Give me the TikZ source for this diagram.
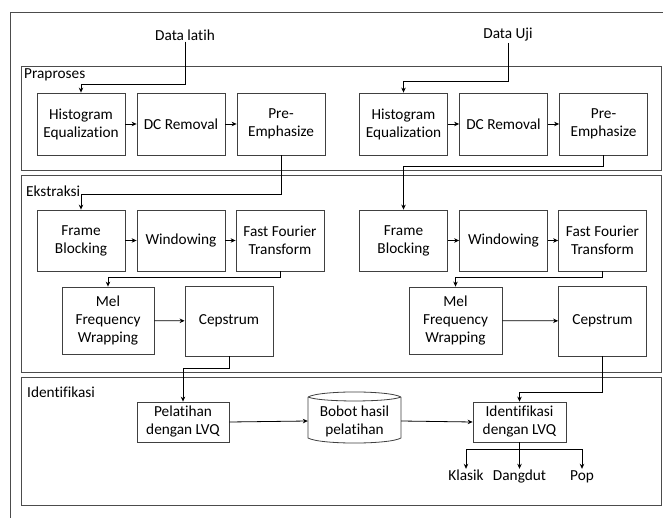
\documentclass[tikz,border=0pt]{standalone}
\usepackage{fontspec}
\setmainfont{Carlito}[Ligatures={NoCommon,NoContextual}]
\usetikzlibrary{arrows.meta,calc}
\begin{document}
\begin{tikzpicture}[x=1pt,y=-1pt,
  every node/.style={font=\fontsize{15.3}{18}\selectfont},
  blk/.style={draw=black!75,line width=0.8pt,align=center,inner sep=1pt},
  sect/.style={draw=black!70,line width=0.9pt},
  lbl/.style={anchor=west,inner sep=1pt},
  outl/.style={inner sep=1pt,text height=10.5pt,text depth=3.5pt},
  arr/.style={draw=black,line width=0.8pt,-{Stealth[length=5pt,width=4.5pt]}},
  ln/.style={draw=black,line width=0.8pt}]
\useasboundingbox (0,0) rectangle (663,518);
\fill[white] (0,0) rectangle (663,518);
% outer frame
\draw[sect] (10,518) -- (10,12) -- (663,12);
% sections
\draw[sect] (21,66) rectangle (661,170);
\draw[sect] (21,175) rectangle (661,372);
\draw[sect] (21,377) rectangle (661,505);
\node[lbl] (tpra) at (23,75) {Praproses};
\node[lbl] (teks) at (25,191) {Ekstraksi};
\node[lbl] (tidn) at (26,392) {Identifikasi};
% inputs
\node[inner sep=1pt] (dl) at (185,35) {Data latih};
\node[inner sep=1pt] (du) at (508,35) {Data Uji};
% praproses and ekstraksi rows
\foreach \n/\x in {1/0,2/322.5}{
  \node[blk,minimum width=88,minimum height=62] (h\n) at (81+\x,124) {Histogram\\Equalization};
  \node[blk,minimum width=88,minimum height=62] (dc\n) at (181+\x,124) {DC Removal};
  \node[blk,minimum width=88,minimum height=62] (pe\n) at (281+\x,124) {Pre-\\Emphasize};
  \node[blk,minimum width=88,minimum height=61] (fb\n) at (81+\x,240.5) {Frame\\Blocking};
  \node[blk,minimum width=88,minimum height=61] (wi\n) at (181+\x,240.5) {Windowing};
  \node[blk,minimum width=88,minimum height=61] (ff\n) at (280+\x,240.5) {Fast Fourier\\Transform};
  \draw[arr] (h\n) -- (dc\n);
  \draw[arr] (dc\n) -- (pe\n);
  \draw[arr] (fb\n) -- (wi\n);
  \draw[arr] (wi\n) -- (ff\n);
}
\node[blk,minimum width=92,minimum height=67] (me1) at (108,320.5) {Mel\\Frequency\\Wrapping};
\node[blk,minimum width=88,minimum height=70] (ce1) at (229,321) {Cepstrum};
\node[blk,minimum width=93,minimum height=67] (me2) at (455.5,320.5) {Mel\\Frequency\\Wrapping};
\node[blk,minimum width=88,minimum height=70] (ce2) at (602.5,321) {Cepstrum};
\draw[arr] (me1) -- (ce1);
\draw[arr] (me2) -- (ce2);
% connectors
\coordinate (c1) at (185,84);
\coordinate (c2) at (508,81);
\draw[arr] (dl.south) -- (c1) -| (h1.north);
\draw[arr] (du.south) -- (c2) -| (h2.north);
\draw[arr] (pe1.south) -- ++(0,39) -| (fb1.north);
\draw[arr] (pe2.south) -- ++(0,11) -| (fb2.north);
\draw[arr] (ff1.south) -- ++(0,6) -| (me1.north);
\draw[arr] (ff2.south) -- ++(0,6) -| (me2.north);
% identifikasi
\node[blk,minimum width=92,minimum height=40] (pel) at (183,422) {Pelatihan\\dengan LVQ};
\node[blk,minimum width=93,minimum height=40] (idn) at (519.5,422) {Identifikasi\\dengan LVQ};
\node[inner sep=0pt,minimum width=93,minimum height=46,align=center] (bob) at (354.5,421) {Bobot hasil\\pelatihan};
\draw[draw=black!75,line width=0.8pt]
  (308,397) .. controls (320,390.3) and (389,390.3) .. (401,397)
  (308,397) .. controls (320,402.3) and (389,402.3) .. (401,397)
  (308,397) -- (308,438) .. controls (320,444.7) and (389,444.7) .. (401,438) -- (401,397);
\draw[arr] (ce1.south) -- ++(0,12) -| (pel.north);
\draw[arr] (ce2.south) -- ++(0,36) -| (idn.north);
\draw[arr] (pel.east) -- (bob.west);
\draw[arr] (bob.east) -- (idn.west);
% outputs
\node[outl] (kl) at (466,477) {Klasik};
\node[outl] (dg) at (519.5,477) {Dangdut};
\node[outl] (pp) at (582,477) {Pop};
\draw[ln] (idn.south) -- ++(0,7) coordinate (br);
\draw[arr] (br) -| (kl.north);
\draw[arr] (br) -| (pp.north);
\draw[arr] (br) -- (dg.north);
\end{tikzpicture}
\end{document}
